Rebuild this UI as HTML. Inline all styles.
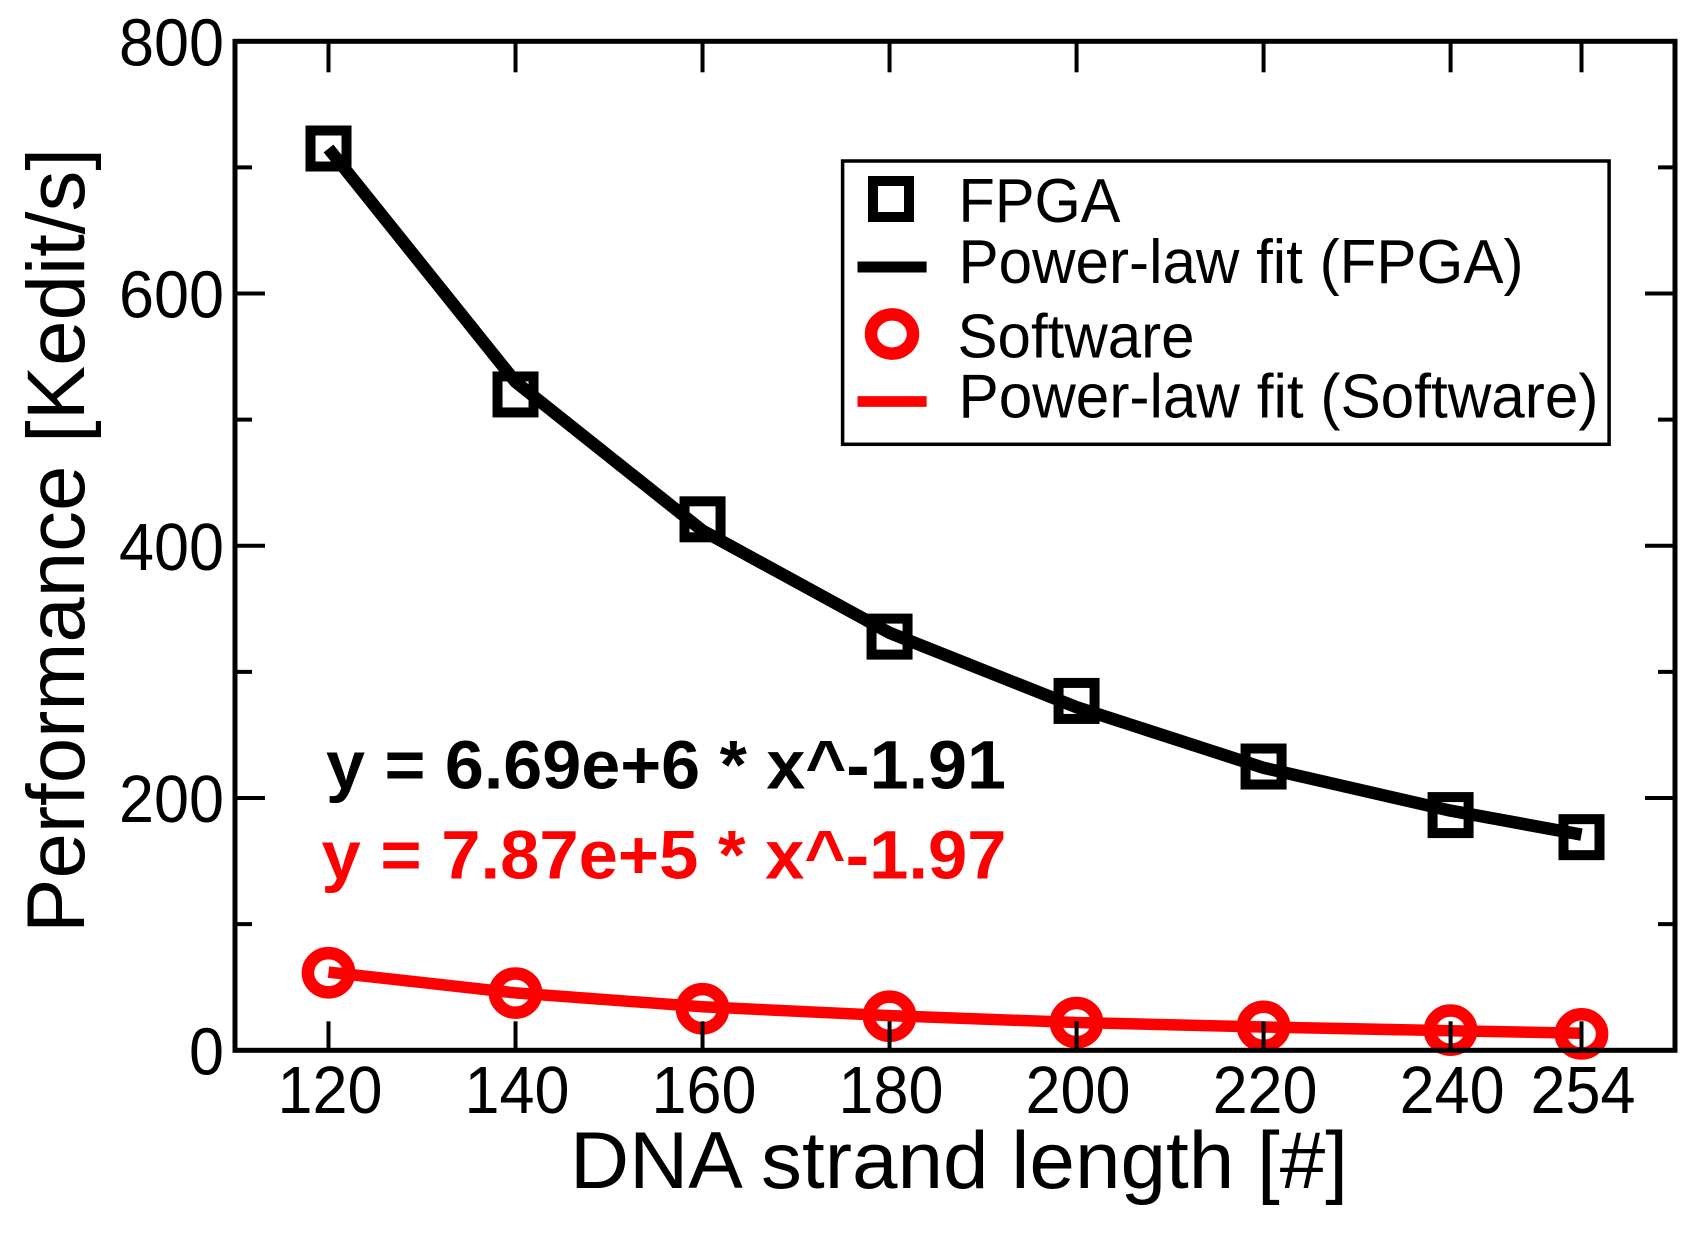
<!DOCTYPE html>
<html lang="en">
<head>
<meta charset="utf-8">
<title>Performance vs DNA strand length</title>
<style>
html,body{margin:0;padding:0;background:#fff;width:1702px;height:1235px;overflow:hidden}
svg{display:block}
text{font-family:"Liberation Sans",Arial,sans-serif;fill:#000}
</style>
</head>
<body>
<svg id="chart" xmlns="http://www.w3.org/2000/svg" width="1702" height="1235" viewBox="0 0 1702 1235">
  <rect x="0" y="0" width="1702" height="1235" fill="#fff"/>
  <g id="marks"></g>
  <g id="axes"></g>
  <rect x="235" y="41.3" width="1440" height="1009" fill="none" stroke="#000" stroke-width="5"/>
  <text x="570" y="1188" font-size="81" textLength="778" lengthAdjust="spacingAndGlyphs">DNA strand length [#]</text>
  <text transform="translate(84,933) rotate(-90)" font-size="82" textLength="785" lengthAdjust="spacingAndGlyphs">Performance [Kedit/s]</text>
  <text x="326" y="788.3" font-size="69" font-weight="bold" textLength="680" lengthAdjust="spacingAndGlyphs">y = 6.69e+6 * x^-1.91</text>
  <text x="321.5" y="878.3" font-size="69" font-weight="bold" style="fill:#f00" textLength="685" lengthAdjust="spacingAndGlyphs">y = 7.87e+5 * x^-1.97</text>
  <g>
    <rect x="842.6" y="161" width="766.5" height="283.3" fill="#fff" stroke="#000" stroke-width="3.5"/>
    <rect x="873" y="181" width="36" height="36" fill="#fff" stroke="#000" stroke-width="10"/>
    <text x="958.5" y="222" font-size="62" textLength="162" lengthAdjust="spacingAndGlyphs">FPGA</text>
    <line x1="857.5" y1="267" x2="926.6" y2="267" stroke="#000" stroke-width="11"/>
    <text x="958.5" y="283" font-size="62" textLength="565" lengthAdjust="spacingAndGlyphs">Power-law fit (FPGA)</text>
    <ellipse cx="892" cy="334" rx="21" ry="19.6" fill="#fff" stroke="#f00" stroke-width="12.5"/>
    <text x="957.5" y="357.5" font-size="62" textLength="237" lengthAdjust="spacingAndGlyphs">Software</text>
    <line x1="857.5" y1="401.5" x2="926.6" y2="401.5" stroke="#f00" stroke-width="10.7"/>
    <text x="958.5" y="417.5" font-size="62" textLength="640" lengthAdjust="spacingAndGlyphs">Power-law fit (Software)</text>
  </g>
</svg>
<script>
var categories = [120, 140, 160, 180, 200, 220, 240, 254];
var fpgaValues = [715, 520, 421, 328, 277, 225, 186.5, 169];
var fpgaFit = [715, 530, 412, 331, 272, 224, 190, 171];
var softwareValues = [61.5, 45.4, 33, 27, 22, 19, 16, 13];
var softwareFit = [62, 45.5, 34.5, 27.5, 22, 18.5, 15.5, 13.5];
var yMajorTicks = [0, 200, 400, 600, 800];
var yMinorTicks = [100, 300, 500, 700];
var xTickLabels = ["120", "140", "160", "180", "200", "220", "240", "254"];
var yTickLabels = ["0", "200", "400", "600", "800"];

var NS = 'http://www.w3.org/2000/svg';
var LEFT = 235, RIGHT = 1675, TOP = 41.3, BOTTOM = 1050.3;
var xDomain = [110, 264], yDomain = [0, 800];
function xScale(v) { return LEFT + (v - xDomain[0]) / (xDomain[1] - xDomain[0]) * (RIGHT - LEFT); }
function yScale(v) { return BOTTOM - (v - yDomain[0]) / (yDomain[1] - yDomain[0]) * (BOTTOM - TOP); }
function make(tag, attrs, parent) {
  var el = document.createElementNS(NS, tag);
  for (var k in attrs) el.setAttribute(k, attrs[k]);
  parent.appendChild(el);
  return el;
}
var marks = document.getElementById('marks');
var axes = document.getElementById('axes');

function polyPoints(values) {
  return values.map(function (v, i) { return xScale(categories[i]) + ',' + yScale(v); }).join(' ');
}

var softLine = make('polyline', { points: polyPoints(softwareFit), fill: 'none', stroke: '#f00', 'stroke-width': 11.5, 'stroke-linejoin': 'round' }, marks);



softwareValues.forEach(function (v, i) {
  var c = make('ellipse', { cx: xScale(categories[i]), cy: yScale(v), rx: 20.6, ry: 19.6, fill: 'none', stroke: '#f00', 'stroke-width': 12.5 }, marks);
  
  
});

var fpgaLine = make('polyline', { points: polyPoints(fpgaFit), fill: 'none', stroke: '#000', 'stroke-width': 12.5, 'stroke-linejoin': 'round' }, marks);



fpgaValues.forEach(function (v, i) {
  var s = make('rect', { x: xScale(categories[i]) - 18, y: yScale(v) - 18, width: 36, height: 36, fill: 'none', stroke: '#000', 'stroke-width': 10 }, marks);
  
  
});

categories.forEach(function (c, i) {
  var x = xScale(c);
  var b = make('line', { x1: x, x2: x, y1: BOTTOM, y2: BOTTOM - 29, stroke: '#000', 'stroke-width': 4 }, axes);
  
  
  var t = make('line', { x1: x, x2: x, y1: TOP, y2: TOP + 31, stroke: '#000', 'stroke-width': 4 }, axes);
  
  
  var l = make('text', { x: x + 1.5, y: 1113, 'font-size': 67, 'text-anchor': 'middle', textLength: 105, lengthAdjust: 'spacingAndGlyphs' }, axes);
  
  
  l.textContent = xTickLabels[i];
});

yMajorTicks.forEach(function (v, i) {
  var y = yScale(v);
  var a = make('line', { x1: LEFT, x2: LEFT + 30, y1: y, y2: y, stroke: '#000', 'stroke-width': 4 }, axes);
  
  
  var b = make('line', { x1: RIGHT, x2: RIGHT - 30, y1: y, y2: y, stroke: '#000', 'stroke-width': 4 }, axes);
  
  
  var l = make('text', { x: 224, y: y + 24, 'font-size': 67, 'text-anchor': 'end', textLength: yTickLabels[i].length * 35, lengthAdjust: 'spacingAndGlyphs' }, axes);
  
  
  l.textContent = yTickLabels[i];
});

yMinorTicks.forEach(function (v) {
  var y = yScale(v);
  var a = make('line', { x1: LEFT, x2: LEFT + 17, y1: y, y2: y, stroke: '#000', 'stroke-width': 4 }, axes);
  
  
  var b = make('line', { x1: RIGHT, x2: RIGHT - 17, y1: y, y2: y, stroke: '#000', 'stroke-width': 4 }, axes);
  
  
});
</script>
</body>
</html>
